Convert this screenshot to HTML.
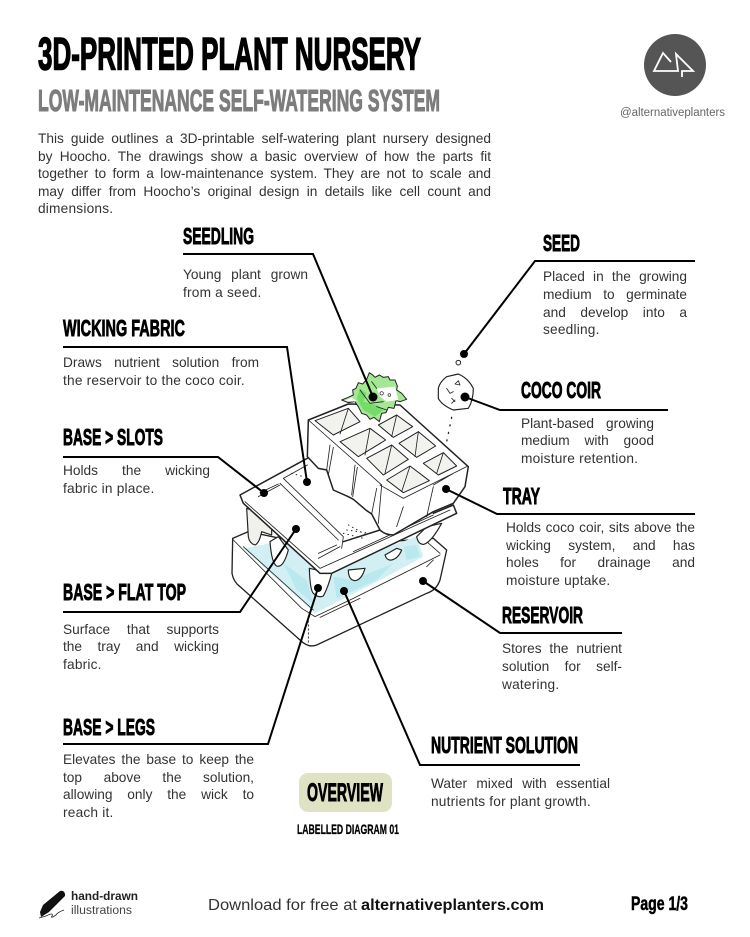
<!DOCTYPE html>
<html><head><meta charset="utf-8">
<style>
html,body{margin:0;padding:0;background:#fff}
#p{position:relative;width:750px;height:937px;overflow:hidden;background:#fff}
svg{position:absolute;left:0;top:0}
.l{position:absolute;font:13.7px/18px "Liberation Sans",sans-serif;color:#333;white-space:nowrap;letter-spacing:.2px}
.j{text-align:justify;text-align-last:justify;white-space:normal;letter-spacing:0}
.h{font-family:"Liberation Sans",sans-serif;font-weight:bold;fill:#000;stroke:#000;stroke-width:.9px}
</style></head><body><div id="p">
<svg width="750" height="937" viewBox="0 0 750 937">
<text class="h" x="38" y="69.5" font-size="45" textLength="383" lengthAdjust="spacingAndGlyphs" style="stroke-width:1.5px">3D-PRINTED PLANT NURSERY</text>
<text class="h" x="38" y="111" font-size="31" textLength="402" lengthAdjust="spacingAndGlyphs" style="fill:#7d7d7d;stroke:#7d7d7d;stroke-width:1.1px">LOW-MAINTENANCE SELF-WATERING SYSTEM</text>
<circle cx="675" cy="65" r="31" fill="#555"/>
<path d="M671 62L663 53L654 71H678L676 54L693 71H682V77" fill="none" stroke="#fff" stroke-width="1.8"/>
<text x="620" y="116" font-family="Liberation Sans" font-size="11.5" fill="#666" textLength="105">@alternativeplanters</text>

<g transform="translate(220,360) scale(.33333)" stroke="#222" stroke-width="3.5" stroke-linejoin="round" stroke-linecap="round" fill="none">
<path fill="#fff" stroke-width="4" d="M38 535L36 640Q40 665 60 680L240 840Q265 865 290 855L620 700Q650 690 660 660L680 570L640 535L300 560L85 515Z"/>
<path fill="#d2f0f3" stroke="none" d="M72 565L200 540L340 620L590 530L610 590L500 650L285 760L230 710L130 620Z"/>
<path fill="#b9e9ee" stroke="none" d="M190 610L260 660L280 730L230 690ZM340 650L400 660L520 610L470 660L350 715ZM550 560L590 555L600 590L560 600Z"/>
<path stroke-width="2.5" d="M40 540L245 745L285 770L400 715L660 585M70 560L280 750M300 772L420 715M620 620L640 600M620 545L660 580"/>
<path fill="#f0f0ec" d="M80 445L85 530Q88 550 105 555Q118 550 125 515L155 525L155 470Z"/>
<path fill="#fff" d="M150 545Q155 610 170 618Q190 625 205 570L175 530Z"/>
<path fill="#fff" d="M268 625Q270 690 280 700Q295 715 310 708Q325 680 335 640Z"/>
<path fill="#fff" d="M385 630Q385 660 405 662Q425 660 435 625Z"/>
<path fill="#fff" d="M495 585Q500 602 515 600Q535 595 545 570L530 565Z"/>
<path fill="#fff" d="M590 530Q595 555 612 553Q635 545 665 490L620 500Z"/>
<path fill="#fff" stroke="none" d="M60 405L260 295L310 325L480 500L700 435L710 460L335 640L300 640L70 430Z"/>
<path stroke-width="4.5" d="M262 295L60 405L70 430L300 640L335 640L710 460L700 435L640 460M480 510L370 545"/>
<path stroke-width="2.5" d="M75 425L300 625L690 450M190 355L370 530L365 565M180 370L355 540M295 595L360 560M295 580L350 555M400 575L640 465M115 410L180 375M120 398L175 372M190 355L262 315"/>
<path fill="#fff" stroke-width="4.5" d="M265 180L385 132L540 135L745 320L735 380L700 430L640 455L520 525Q495 525 480 510L455 462L440 452L400 418L385 410L340 390L320 330L295 325L262 290Z"/>
<path stroke-width="2.5" d="M265 180L485 375L475 490M480 375L550 415L740 320M330 255L320 330M340 262L325 345M405 315L395 405M412 322L398 410M470 385L455 462M640 380L620 470M550 440L530 500M700 340L640 375"/>
<g fill="#f2f3ee" stroke-width="3">
<path d="M285 182L385 145L420 185L340 225Z"/>
<path d="M475 195L530 165L578 200L520 232Z"/>
<path d="M360 245L450 205L497 240L415 290Z"/>
<path d="M537 250L595 215L647 258L590 292Z"/>
<path d="M440 295L515 255L565 298L490 345Z"/>
<path d="M610 310L670 278L710 318L655 345Z"/>
<path d="M500 360L570 318L628 362L550 398Z"/>
</g>
<path stroke-width="2.5" d="M385 145L360 222M530 165L515 230M450 205L435 285M595 215L585 290M515 255L495 340M670 278L650 340M570 318L545 395"/>
<path fill="#a4e992" stroke-width="3" d="M415 68L428 72L440 58L448 38L458 45L465 52L478 45L490 52L505 50L510 60L525 60L532 78L530 90L545 100L560 118L540 125L528 122L522 145L505 142L498 158L485 160L478 185L462 172L450 178L440 165L425 160L415 140L405 125L385 128L365 120L385 112L400 105L398 90L408 85Z"/>
<path fill="#fff" stroke="none" d="M470 85L525 80L535 120L500 125L480 110ZM395 112L410 122L405 125L375 122Z"/>
<path fill="#74dc6a" stroke="none" d="M420 85L440 100L430 125L470 135L490 150L465 170L430 150L410 115Z"/>
<path stroke-width="2.5" d="M420 90L450 130L490 125M470 140L500 150M455 65L470 85"/>
<circle cx="485" cy="100" r="5" stroke-width="2"/><circle cx="508" cy="105" r="4" stroke-width="2"/>
<path fill="#fff" stroke-width="3.5" d="M655 85Q660 65 680 50L715 42Q745 55 760 85Q760 120 745 145L700 150Q665 135 655 115Z"/>
<path stroke-width="2.5" d="M680 85L690 100L700 95M715 62L705 72L720 75ZM695 130L705 120M695 115L705 125"/>
<circle cx="715" cy="8" r="7" fill="#fff" stroke-width="3"/>
<path stroke-width="4" stroke-dasharray="3 20" d="M695 172L680 245"/>
<path stroke-width="3" stroke-dasharray="2 12" d="M215 340L250 350M380 510L450 520M385 495L440 525M370 520L430 535"/>
<path stroke-width="2.5" d="M265 770L265 850" stroke-dasharray="5 7"/>
</g>

<g fill="none" stroke="#000" stroke-width="2">
<path d="M183 254H313L373 397"/>
<path d="M695 261H535L464 354"/>
<path d="M63 347H287L307 482"/>
<path d="M668 410H500L465 397"/>
<path d="M695 514H497L446 489"/>
<path d="M63 457H218L264 493"/>
<path d="M63 612H240L296 529"/>
<path d="M622 633H500L423 581"/>
<path d="M63 744H268L318 588"/>
<path d="M580 765H420L344 591"/>
</g>
<g fill="#000">
<circle cx="373" cy="397" r="4.5"/><circle cx="464" cy="354" r="4"/><circle cx="307" cy="482" r="4"/><circle cx="465" cy="397" r="4.5"/><circle cx="446" cy="489" r="4"/><circle cx="264" cy="493" r="4"/><circle cx="296" cy="529" r="4"/><circle cx="423" cy="581" r="4"/><circle cx="318" cy="588" r="4"/><circle cx="344" cy="591" r="4"/>
</g>

<g font-size="23">
<text class="h" x="183" y="244" textLength="71" lengthAdjust="spacingAndGlyphs">SEEDLING</text>
<text class="h" x="543" y="251" textLength="37" lengthAdjust="spacingAndGlyphs">SEED</text>
<text class="h" x="63" y="336" textLength="122" lengthAdjust="spacingAndGlyphs">WICKING FABRIC</text>
<text class="h" x="521" y="398" textLength="80" lengthAdjust="spacingAndGlyphs">COCO COIR</text>
<text class="h" x="503" y="504" textLength="37" lengthAdjust="spacingAndGlyphs">TRAY</text>
<text class="h" x="63" y="445" textLength="100" lengthAdjust="spacingAndGlyphs">BASE &gt; SLOTS</text>
<text class="h" x="63" y="600" textLength="123" lengthAdjust="spacingAndGlyphs">BASE &gt; FLAT TOP</text>
<text class="h" x="502" y="623" textLength="81" lengthAdjust="spacingAndGlyphs">RESERVOIR</text>
<text class="h" x="63" y="735" textLength="92" lengthAdjust="spacingAndGlyphs">BASE &gt; LEGS</text>
<text class="h" x="431" y="753" textLength="147" lengthAdjust="spacingAndGlyphs">NUTRIENT SOLUTION</text>
</g>
<rect x="299" y="773" width="93" height="39" rx="9" fill="#e0e2c4"/>
<text class="h" x="307" y="801" font-size="25" textLength="76" lengthAdjust="spacingAndGlyphs">OVERVIEW</text>
<text class="h" x="297" y="834" font-size="14" textLength="102" lengthAdjust="spacingAndGlyphs" style="stroke-width:.3px">LABELLED DIAGRAM 01</text>

<path d="M40 912L43 905L60 891Q64 890 65 894L65 896L49 912L41 917Z" fill="#111"/>
<path d="M39 918L46 916Q54 912 52 916Q50 919 56 915Q58 912 64 910" stroke="#222" fill="none" stroke-width=".8"/>
<text x="71" y="900" font-family="Liberation Sans" font-weight="bold" font-size="11.5" fill="#222" textLength="67" lengthAdjust="spacingAndGlyphs">hand-drawn</text>
<text x="71" y="914" font-family="Liberation Sans" font-size="11.5" fill="#444" textLength="61" lengthAdjust="spacingAndGlyphs">illustrations</text>
<text x="208" y="910" font-family="Liberation Sans" font-size="16" fill="#333" textLength="149" lengthAdjust="spacingAndGlyphs">Download for free at</text>
<text x="361" y="910" font-family="Liberation Sans" font-weight="bold" font-size="16" fill="#111" textLength="183" lengthAdjust="spacingAndGlyphs">alternativeplanters.com</text>
<text class="h" x="631" y="910" font-size="19" textLength="57" lengthAdjust="spacingAndGlyphs" style="stroke-width:.5px">Page 1/3</text>
</svg>

<div class="l j" style="left:38px;top:130px;width:453px">This guide outlines a 3D-printable self-watering plant nursery designed</div>
<div class="l j" style="left:38px;top:148px;width:453px">by Hoocho. The drawings show a basic overview of how the parts fit</div>
<div class="l j" style="left:38px;top:165px;width:453px">together to form a low-maintenance system. They are not to scale and</div>
<div class="l j" style="left:38px;top:183px;width:453px">may differ from Hoocho’s original design in details like cell count and</div>
<div class="l" style="left:38px;top:200px">dimensions.</div>

<div class="l j" style="left:183px;top:266px;width:125px">Young plant grown</div>
<div class="l" style="left:183px;top:284px">from a seed.</div>

<div class="l j" style="left:543px;top:268px;width:144px">Placed in the growing</div>
<div class="l j" style="left:543px;top:286px;width:144px">medium to germinate</div>
<div class="l j" style="left:543px;top:304px;width:144px">and develop into a</div>
<div class="l" style="left:543px;top:321px">seedling.</div>

<div class="l j" style="left:63px;top:354px;width:196px">Draws nutrient solution from</div>
<div class="l" style="left:63px;top:372px">the reservoir to the coco coir.</div>

<div class="l j" style="left:521px;top:415px;width:133px">Plant-based growing</div>
<div class="l j" style="left:521px;top:432px;width:133px">medium with good</div>
<div class="l" style="left:521px;top:450px">moisture retention.</div>

<div class="l j" style="left:506px;top:519px;width:189px">Holds coco coir, sits above the</div>
<div class="l j" style="left:506px;top:537px;width:189px">wicking system, and has</div>
<div class="l j" style="left:506px;top:554px;width:189px">holes for drainage and</div>
<div class="l" style="left:506px;top:572px">moisture uptake.</div>

<div class="l j" style="left:63px;top:462px;width:147px">Holds the wicking</div>
<div class="l" style="left:63px;top:480px">fabric in place.</div>

<div class="l j" style="left:63px;top:621px;width:156px">Surface that supports</div>
<div class="l j" style="left:63px;top:638px;width:156px">the tray and wicking</div>
<div class="l" style="left:63px;top:656px">fabric.</div>

<div class="l j" style="left:502px;top:640px;width:120px">Stores the nutrient</div>
<div class="l j" style="left:502px;top:658px;width:120px">solution for self-</div>
<div class="l" style="left:502px;top:676px">watering.</div>

<div class="l j" style="left:63px;top:751px;width:191px">Elevates the base to keep the</div>
<div class="l j" style="left:63px;top:769px;width:191px">top above the solution,</div>
<div class="l j" style="left:63px;top:786px;width:191px">allowing only the wick to</div>
<div class="l" style="left:63px;top:804px">reach it.</div>

<div class="l j" style="left:431px;top:775px;width:179px">Water mixed with essential</div>
<div class="l" style="left:431px;top:793px">nutrients for plant growth.</div>
</div></body></html>
